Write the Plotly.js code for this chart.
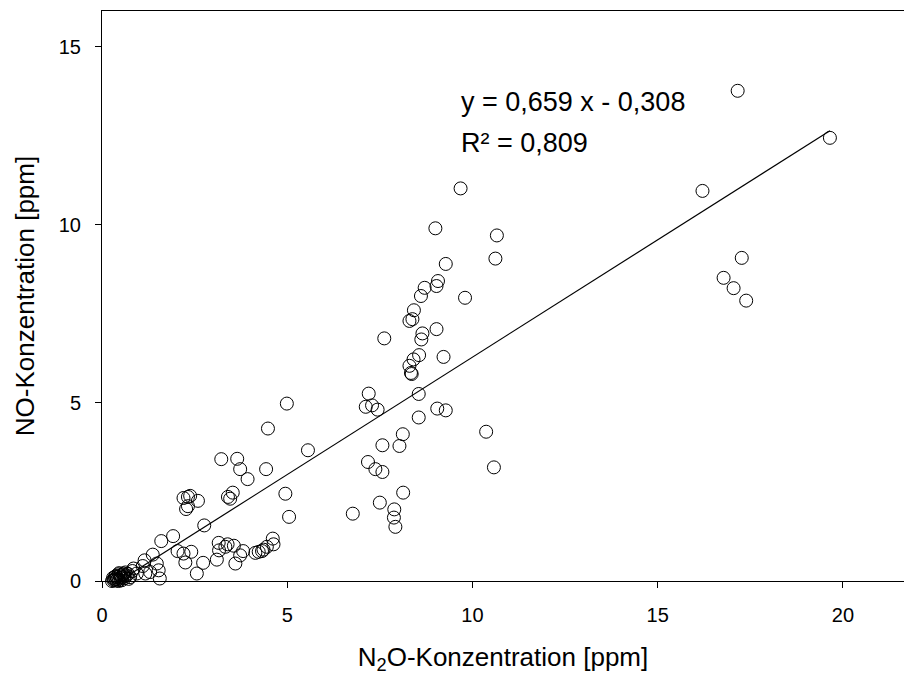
<!DOCTYPE html>
<html>
<head>
<meta charset="utf-8">
<script src="https://cdn.plot.ly/plotly-3.0.1.min.js"></script>
<style>html,body{margin:0;padding:0;background:#fff}#chart{width:904px;height:676px}</style>
</head>
<body>
<div id="chart"></div>
<script>
// N2O concentration [ppm] (x) and NO concentration [ppm] (y)
const n2o = [
  17.16, 19.65, 16.21, 17.27, 16.78, 17.05, 17.39,
  9.68, 9.00, 10.66, 10.62, 9.28, 9.07, 8.71, 9.03, 8.61, 9.80, 8.42, 8.38, 8.30,
  7.62, 8.65, 8.62, 9.03, 9.22, 8.56, 8.41, 8.30, 8.34, 8.36, 8.55,
  7.20, 7.12, 7.29, 7.44, 9.05, 9.28, 8.55, 5.56, 10.37, 8.12, 7.57, 8.03,
  7.18, 7.38, 7.57, 10.58, 8.13, 7.50, 6.77, 7.89, 7.88, 7.92,
  4.99, 4.48, 3.22, 3.65, 3.73, 4.43, 3.93,
  2.32, 2.38, 2.20, 2.59, 2.32, 2.27, 3.53, 3.40, 3.46, 2.76, 4.95, 5.05,
  1.92, 1.60, 3.15, 3.39, 3.33, 3.16, 3.56, 4.61, 4.63, 4.45,
  4.14, 4.23, 4.32, 4.36, 3.81, 3.73, 3.10, 3.60, 2.73, 2.56, 2.25, 2.41, 2.04, 2.20,
  1.37, 1.15, 1.10, 1.48, 1.53, 1.56, 1.30, 1.17, 0.85, 0.94,
  0.31, 0.40, 0.49, 0.58, 0.67, 0.76, 0.45, 0.53, 0.36, 0.27, 0.63, 0.42, 0.55, 0.35, 0.50,
  0.33, 0.38, 0.44, 0.47, 0.52, 0.57, 0.61, 0.70, 0.30, 0.39, 0.46, 0.60, 0.82, 0.72
];
const no = [
  13.76, 12.44, 10.95, 9.07, 8.51, 8.22, 7.87,
  11.02, 9.90, 9.70, 9.05, 8.90, 8.42, 8.23, 8.28, 8.00, 7.95, 7.60, 7.35, 7.30,
  6.81, 6.95, 6.78, 7.07, 6.29, 6.34, 6.22, 6.04, 5.84, 5.81, 5.25,
  5.26, 4.89, 4.93, 4.81, 4.84, 4.79, 4.59, 3.67, 4.19, 4.12, 3.81, 3.79,
  3.34, 3.14, 3.06, 3.19, 2.48, 2.20, 1.89, 2.01, 1.78, 1.52,
  4.98, 4.28, 3.42, 3.43, 3.14, 3.14, 2.86,
  2.36, 2.39, 2.33, 2.25, 2.10, 2.02, 2.48, 2.36, 2.31, 1.56, 2.45, 1.80,
  1.26, 1.12, 1.07, 1.03, 0.96, 0.86, 0.99, 1.19, 1.03, 0.96,
  0.79, 0.82, 0.84, 0.88, 0.84, 0.72, 0.60, 0.49, 0.51, 0.21, 0.52, 0.82, 0.84, 0.77,
  0.74, 0.58, 0.42, 0.49, 0.30, 0.07, 0.25, 0.21, 0.35, 0.21,
  0.02, 0.11, 0.16, 0.21, 0.16, 0.11, 0.00, 0.02, 0.06, 0.00, 0.24, 0.05, 0.10, 0.12, 0.08,
  0.04, 0.14, 0.19, 0.03, 0.13, 0.18, 0.08, 0.20, 0.09, 0.01, 0.22, 0.13, 0.28, 0.06
];
// regression shown on the chart
const slope = 0.659;
const intercept = -0.308;
const eqText = "y = 0,659 x - 0,308";
const r2Text = "R² = 0,809";
const xTicks = [0, 5, 10, 15, 20];
const yTicks = [0, 5, 10, 15];

const xMin = Math.min(...n2o), xMax = Math.max(...n2o);
const fitX = [xMin, xMax];
const fitY = fitX.map(v => slope * v + intercept);

const font = "Liberation Sans, Arial, sans-serif";

const traces = [
  {
    x: fitX, y: fitY, type: "scatter", mode: "lines",
    line: {color: "#000", width: 1.2}, hoverinfo: "skip", showlegend: false
  },
  {
    x: n2o, y: no, type: "scatter", mode: "markers",
    marker: {symbol: "circle-open", size: 13, color: "#000", line: {width: 1, color: "#000"}},
    cliponaxis: false, showlegend: false
  }
];

const layout = {
  width: 904, height: 676,
  margin: {l: 102, r: 0, t: 11, b: 95, pad: 0},
  paper_bgcolor: "#fff", plot_bgcolor: "#fff",
  font: {family: font, color: "#000", size: 20},
  showlegend: false,
  xaxis: {
    range: [0, 21.65], tickvals: xTicks, ticktext: xTicks.map(String),
    showgrid: false, zeroline: false, showline: true, linecolor: "#000", linewidth: 1,
    mirror: true,
    ticks: "outside", ticklen: 6, tickwidth: 1, tickcolor: "#000",
    ticklabelstandoff: 10,
    tickfont: {family: font, size: 20, color: "#000"},
    title: {text: "N<sub>2</sub>O-Konzentration [ppm]", font: {family: font, size: 26, color: "#000"}, standoff: 22}
  },
  yaxis: {
    range: [0, 16], tickvals: yTicks, ticktext: yTicks.map(String),
    showgrid: false, zeroline: false, showline: true, linecolor: "#000", linewidth: 1,
    ticks: "outside", ticklen: 6, tickwidth: 1, tickcolor: "#000",
    ticklabelstandoff: 10,
    tickfont: {family: font, size: 20, color: "#000"},
    title: {text: "NO-Konzentration [ppm]", font: {family: font, size: 26, color: "#000"}, standoff: 16}
  },
  annotations: [
    {x: 9.64, y: 13.45, xref: "x", yref: "y", text: eqText, showarrow: false,
     xanchor: "left", yanchor: "middle", font: {family: font, size: 27, color: "#000"}},
    {x: 9.64, y: 12.3, xref: "x", yref: "y", text: r2Text, showarrow: false,
     xanchor: "left", yanchor: "middle", font: {family: font, size: 27, color: "#000"}}
  ]
};

Plotly.newPlot("chart", traces, layout, {displayModeBar: false, staticPlot: true});
</script>
</body>
</html>
